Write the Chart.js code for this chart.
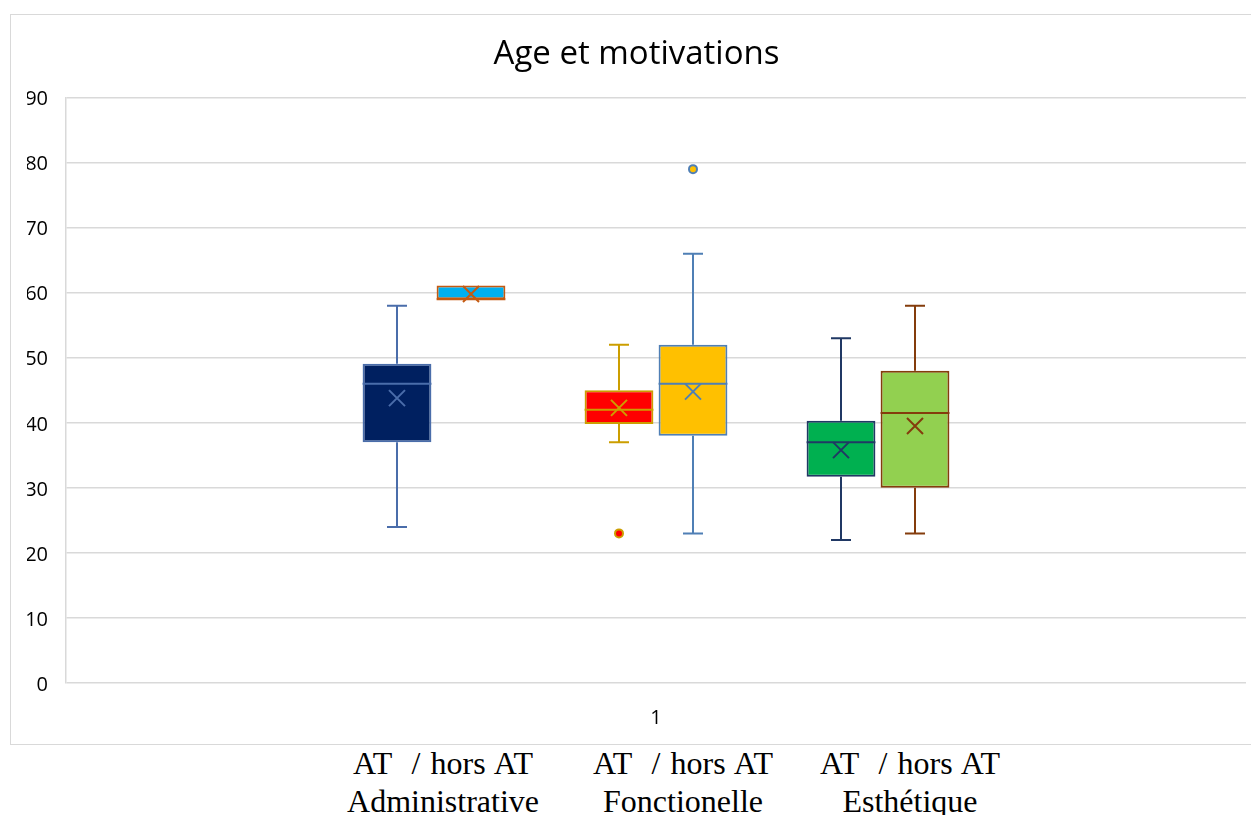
<!DOCTYPE html>
<html>
<head>
<meta charset="utf-8">
<script src="https://cdn.jsdelivr.net/npm/chart.js@4"></script>
<style>
  body { margin: 0; background: #fff; overflow: hidden; width: 1251px; height: 815px; position: relative; }
  #frame { position: absolute; left: 10px; top: 14px; width: 1245px; height: 729px; border: 1px solid #d9d9d9; }
  #inner { position: absolute; left: 0; top: 0; width: 1235px; height: 729px; }
  .grp { position: absolute; top: 744px; width: 300px; text-align: center; white-space: pre; word-spacing: 2px;
         font-family: 'Liberation Serif', 'Times New Roman', serif; font-size: 32px; line-height: 38px; color: #000; }
</style>
</head>
<body>
<div id="frame"><div id="inner"><canvas id="myChart"></canvas></div></div>
<div class="grp" style="left:293px">AT  / hors AT
Administrative</div>
<div class="grp" style="left:533px">AT  / hors AT
Fonctionelle</div>
<div class="grp" style="left:760px">AT  / hors AT
Esthétique</div>
<script>
// categorie et series
const categories = ['1'];
const seriesNames = ['AT Administrative', 'hors AT Administrative', 'AT Fonctionelle', 'hors AT Fonctionelle', 'AT Esthétique', 'hors AT Esthétique'];

// valeurs
const mins    = [24, 59, 37, 23, 22, 23];
const q1s     = [37, 59, 39.8, 38, 31.7, 30];
const medians = [46, 59, 42, 46, 37, 41.5];
const q3s     = [49.1, 61.1, 45, 52, 40.3, 48];
const maxs    = [58, 61.1, 52, 66, 53, 58];
const means   = [43.8, 59.8, 42.3, 44.8, 35.8, 39.5];
const outliers = [[], [], [23], [79], [], []];

const yTicks = { min: 0, max: 90, step: 10 };

// couleurs
const fills = ['#002060', '#00b0f0', '#ff0000', '#ffc000', '#00b050', '#92d050'];
const lines = ['#4a6daa', '#c55a11', '#cc9e00', '#4f7fb5', '#203864', '#843c0c'];

let buildDatasets = () => {
    let out = [];
    seriesNames.forEach((name, i) => {
        out.push({
            label: name,
            data: [[q1s[i], q3s[i]]],
            backgroundColor: fills[i],
            borderColor: lines[i],
            borderWidth: 2,
            borderSkipped: false,
            stats: { min: mins[i], med: medians[i], max: maxs[i], mean: means[i], out: outliers[i] }
        });
        // place vide entre les paires
        if (i == 1 || i == 3) out.push({ label: '', data: [null] });
    });
    return out;
};

const boxPlugin = {
    id: 'boxes',
    afterDatasetsDraw(chart) {
        const ctx = chart.ctx;
        const y = chart.scales.y;
        chart.data.datasets.forEach((ds, i) => {
            if (!ds.stats) return;
            const bar = chart.getDatasetMeta(i).data[0];
            const x = bar.x, w = bar.width, s = ds.stats;
            const q1 = ds.data[0][0], q3 = ds.data[0][1];
            ctx.save();
            ctx.strokeStyle = ds.borderColor;
            ctx.lineWidth = 2;
            ctx.beginPath();
            // moustaches
            if (s.max > q3) {
                ctx.moveTo(x, y.getPixelForValue(q3)); ctx.lineTo(x, y.getPixelForValue(s.max));
                ctx.moveTo(x - 10, y.getPixelForValue(s.max)); ctx.lineTo(x + 10, y.getPixelForValue(s.max));
            }
            if (s.min < q1) {
                ctx.moveTo(x, y.getPixelForValue(q1)); ctx.lineTo(x, y.getPixelForValue(s.min));
                ctx.moveTo(x - 10, y.getPixelForValue(s.min)); ctx.lineTo(x + 10, y.getPixelForValue(s.min));
            }
            // mediane
            ctx.moveTo(x - w / 2, y.getPixelForValue(s.med)); ctx.lineTo(x + w / 2, y.getPixelForValue(s.med));
            ctx.stroke();
            // moyenne (X)
            const ym = y.getPixelForValue(s.mean);
            ctx.beginPath();
            ctx.moveTo(x - 8, ym - 8); ctx.lineTo(x + 8, ym + 8);
            ctx.moveTo(x - 8, ym + 8); ctx.lineTo(x + 8, ym - 8);
            ctx.stroke();
            // points aberrants
            s.out.forEach(v => {
                ctx.beginPath();
                ctx.arc(x, y.getPixelForValue(v), 4, 0, Math.PI * 2);
                ctx.fillStyle = ds.backgroundColor;
                ctx.fill();
                ctx.stroke();
            });
            ctx.restore();
        });
    }
};

let plot = () => {
    const ctx = document.getElementById('myChart');

    const config = {
        type: 'bar',
        data: { labels: categories, datasets: buildDatasets() },
        options: {
            responsive: true,
            maintainAspectRatio: false,
            animation: false,
            categoryPercentage: 0.5017,
            barPercentage: 0.93,
            layout: { padding: { left: 16, right: 0, top: 0, bottom: 0 } },
            plugins: {
                legend: { display: false },
                tooltip: { enabled: false },
                title: {
                    display: true,
                    text: 'Age et motivations',
                    color: '#000',
                    font: { family: 'Open Sans', size: 33, weight: 'normal' },
                    padding: { top: 20, bottom: 23 }
                }
            },
            scales: {
                x: {
                    grid: { display: false },
                    border: { display: false },
                    ticks: { color: '#000', font: { family: 'Open Sans', size: 20 }, padding: 15 },
                    afterFit: (scale) => { scale.height = 61; }
                },
                y: {
                    min: yTicks.min,
                    max: yTicks.max,
                    ticks: { stepSize: yTicks.step, color: '#000', font: { family: 'Open Sans', size: 20 }, padding: 18, labelOffset: 2 },
                    grid: { color: '#d9d9d9', lineWidth: 1.5, drawTicks: false },
                    border: { color: '#d9d9d9', width: 1.5 },
                    afterFit: (scale) => { scale.width = 39; }
                }
            }
        },
        plugins: [boxPlugin]
    };

    const chart = new Chart(ctx, config);
};

plot();
</script>
</body>
</html>
